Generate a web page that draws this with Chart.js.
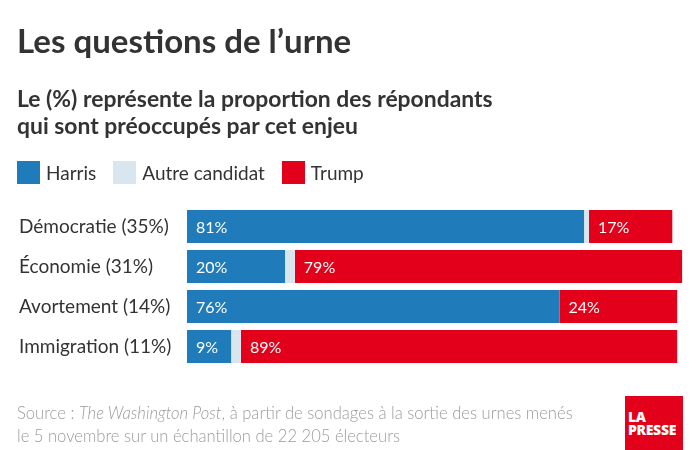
<!DOCTYPE html>
<html lang="fr">
<head>
<meta charset="utf-8">
<script src="https://cdn.jsdelivr.net/npm/chart.js@4"></script>
<style>
  html, body { margin: 0; padding: 0; background: #fff; }
  body { width: 700px; height: 450px; position: relative; overflow: hidden; font-family: Lato, "Open Sans", sans-serif; color: #333; }
  #chart { position: absolute; left: 0; top: 0; }
  .abs { position: absolute; white-space: nowrap; }
  #title { left: 17px; top: 20px; font-size: 33px; font-weight: 700; color: #333; }
  #sub { left: 17px; top: 85px; font-size: 22.9px; font-weight: 700; line-height: 27px; color: #333; }
  #legend { left: 17px; top: 161px; font-size: 19px; color: #333; display: flex; align-items: center; }
  #legend span.sw { display: inline-block; width: 23px; height: 23px; margin-right: 6px; }
  #legend span.lb { margin-right: 17px; }
  #source { left: 17px; top: 402px; font-size: 16.6px; line-height: 23px; color: #9c9c9c; font-weight: 300; }
  #logo { left: 625px; top: 396px; width: 58px; height: 54px; background: #e2001a; color: #fff; font-weight: 900; font-size: 14px; line-height: 13px; padding: 14px 0 0 3px; box-sizing: border-box; letter-spacing: -0.3px; font-family: "Open Sans", Lato, sans-serif; }
</style>
</head>
<body>
<canvas id="chart" width="700" height="450"></canvas>
<div id="title" class="abs">Les questions de l’urne</div>
<div id="sub" class="abs">Le (%) représente la proportion des répondants<br>qui sont préoccupés par cet enjeu</div>
<div id="legend" class="abs"></div>
<div id="source" class="abs">Source : <i>The Washington Post</i>, à partir de sondages à la sortie des urnes menés<br>le 5 novembre sur un échantillon de 22 205 électeurs</div>
<div id="logo" class="abs">LA<br>PRESSE</div>
<script>
const categories = ["Démocratie (35%)", "Économie (31%)", "Avortement (14%)", "Immigration (11%)"];
const harris = [81, 20, 76, 9];
const autre = [1, 2, 0, 2];
const trump = [17, 79, 24, 89];
const seriesNames = ["Harris", "Autre candidat", "Trump"];
const seriesColors = ["#1f7bb9", "#d9e6ef", "#e2001a"];

const legend = document.getElementById('legend');
seriesNames.forEach((n, i) => {
  const sw = document.createElement('span'); sw.className = 'sw'; sw.style.background = seriesColors[i];
  const lb = document.createElement('span'); lb.className = 'lb'; lb.textContent = n;
  legend.appendChild(sw); legend.appendChild(lb);
});

const labelPlugin = {
  id: 'segLabels',
  afterDatasetsDraw(chart) {
    const ctx = chart.ctx;
    ctx.save();
    ctx.fillStyle = '#ffffff';
    ctx.font = '16px Lato, "Open Sans", sans-serif';
    ctx.textAlign = 'left';
    ctx.textBaseline = 'middle';
    [0, 2].forEach(di => {
      const meta = chart.getDatasetMeta(di);
      const data = chart.data.datasets[di].data;
      meta.data.forEach((el, i) => {
        const left = Math.min(el.x, el.base);
        ctx.fillText(data[i] + '%', left + 9, el.y + 1);
      });
    });
    ctx.restore();
  }
};

new Chart(document.getElementById('chart'), {
  type: 'bar',
  data: {
    labels: categories,
    datasets: [
      { label: seriesNames[0], data: harris, backgroundColor: seriesColors[0] },
      { label: seriesNames[1], data: autre, backgroundColor: seriesColors[1] },
      { label: seriesNames[2], data: trump, backgroundColor: seriesColors[2] }
    ]
  },
  options: {
    indexAxis: 'y',
    responsive: false,
    animation: false,
    layout: { padding: { left: 19, right: 13, top: 206.5, bottom: 83.5 } },
    datasets: { bar: { barPercentage: 0.825, categoryPercentage: 1, borderWidth: 0 } },
    plugins: { legend: { display: false }, tooltip: { enabled: false } },
    scales: {
      x: { stacked: true, min: 0, max: 102, display: false },
      y: {
        stacked: true,
        grid: { display: false },
        border: { display: false },
        ticks: { crossAlign: 'far', padding: 0, color: '#333', font: { family: 'Lato, "Open Sans", sans-serif', size: 19 } },
        afterFit(scale) { scale.width = 168; }
      }
    }
  },
  plugins: [labelPlugin]
});
</script>
</body>
</html>
